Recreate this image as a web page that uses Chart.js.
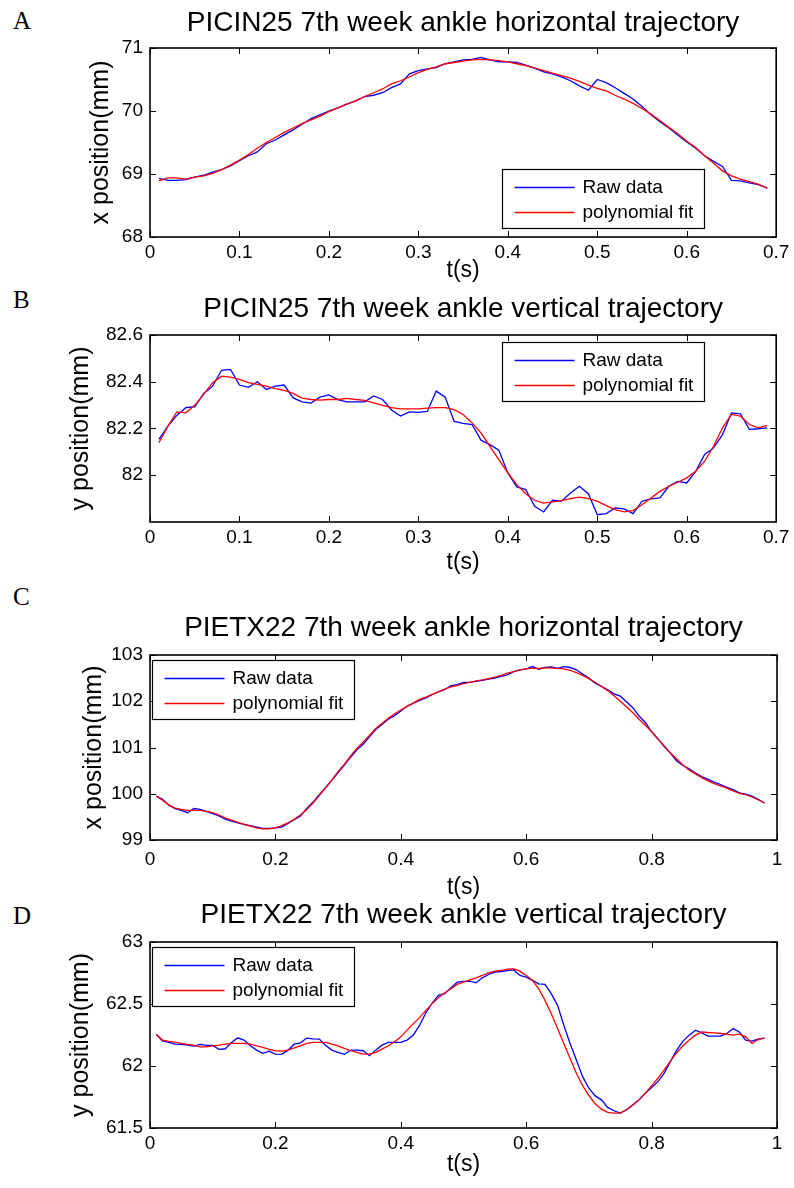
<!DOCTYPE html>
<html>
<head>
<meta charset="utf-8">
<title>Ankle trajectories</title>
<script src="https://cdn.jsdelivr.net/npm/chart.js"></script>
<style>
  body { margin: 0; background: #fff; }
  #page { position: relative; width: 794px; height: 1188px; overflow: hidden; }
  #page canvas { position: absolute; left: 0; }
  .letter { position: absolute; left: 13px; font-family: "Liberation Serif", "Times New Roman", serif; font-size: 25px; line-height: 28px; color: #000; }
</style>
</head>
<body>
<div id="page">
  <div class="letter" style="top:7px">A</div>
  <div class="letter" style="top:286px">B</div>
  <div class="letter" style="top:583px">C</div>
  <div class="letter" style="top:902px">D</div>
  <canvas id="chartA"></canvas>
  <canvas id="chartB"></canvas>
  <canvas id="chartC"></canvas>
  <canvas id="chartD"></canvas>
</div>
<script>
// time samples (s)
const tAB = [0.01,0.02,0.03,0.04,0.05,0.06,0.07,0.08,0.09,0.10,
  0.11,0.12,0.13,0.14,0.15,0.16,0.17,0.18,0.19,0.20,
  0.21,0.22,0.23,0.24,0.25,0.26,0.27,0.28,0.29,0.30,
  0.31,0.32,0.33,0.34,0.35,0.36,0.37,0.38,0.39,0.40,
  0.41,0.42,0.43,0.44,0.45,0.46,0.47,0.48,0.49,0.50,
  0.51,0.52,0.53,0.54,0.55,0.56,0.57,0.58,0.59,0.60,
  0.61,0.62,0.63,0.64,0.65,0.66,0.67,0.68,0.69];
const tCD = [0.01,0.02,0.03,0.04,0.05,0.06,0.07,0.08,0.09,0.10,
  0.11,0.12,0.13,0.14,0.15,0.16,0.17,0.18,0.19,0.20,
  0.21,0.22,0.23,0.24,0.25,0.26,0.27,0.28,0.29,0.30,
  0.31,0.32,0.33,0.34,0.35,0.36,0.37,0.38,0.39,0.40,
  0.41,0.42,0.43,0.44,0.45,0.46,0.47,0.48,0.49,0.50,
  0.51,0.52,0.53,0.54,0.55,0.56,0.57,0.58,0.59,0.60,
  0.61,0.62,0.63,0.64,0.65,0.66,0.67,0.68,0.69,0.70,
  0.71,0.72,0.73,0.74,0.75,0.76,0.77,0.78,0.79,0.80,
  0.81,0.82,0.83,0.84,0.85,0.86,0.87,0.88,0.89,0.90,
  0.91,0.92,0.93,0.94,0.95,0.96,0.97,0.98];

// A: PICIN25 horizontal
const rawA = [68.93,68.90,68.90,68.91,68.95,68.98,69.03,69.07,69.13,69.21,
  69.29,69.35,69.48,69.54,69.62,69.70,69.79,69.88,69.94,70.00,
  70.05,70.11,70.16,70.23,70.25,70.29,70.37,70.43,70.59,70.64,
  70.67,70.69,70.75,70.78,70.81,70.82,70.85,70.81,70.78,70.78,
  70.77,70.73,70.68,70.62,70.59,70.54,70.48,70.40,70.33,70.50,
  70.45,70.37,70.28,70.19,70.07,69.94,69.83,69.73,69.62,69.51,
  69.41,69.29,69.20,69.12,68.90,68.89,68.86,68.83,68.78];
const fitA = [68.89,68.94,68.94,68.92,68.95,68.97,69.01,69.07,69.14,69.22,
  69.31,69.41,69.50,69.58,69.66,69.73,69.80,69.86,69.92,69.99,
  70.05,70.11,70.16,70.23,70.29,70.35,70.43,70.48,70.54,70.61,
  70.66,70.70,70.75,70.77,70.79,70.81,70.82,70.81,70.80,70.78,
  70.75,70.72,70.68,70.64,70.60,70.56,70.52,70.47,70.41,70.36,
  70.32,70.25,70.19,70.12,70.04,69.95,69.85,69.74,69.64,69.52,
  69.42,69.29,69.17,69.05,68.97,68.92,68.88,68.84,68.77];

// B: PICIN25 vertical
const rawB = [82.153,82.21,82.256,82.289,82.293,82.35,82.381,82.449,82.453,82.386,
  82.376,82.40,82.367,82.381,82.386,82.331,82.314,82.309,82.334,82.344,
  82.324,82.314,82.314,82.314,82.339,82.324,82.279,82.253,82.271,82.269,
  82.273,82.36,82.334,82.23,82.222,82.217,82.15,82.131,82.107,82.01,
  81.95,81.939,81.867,81.843,81.893,81.889,81.924,81.953,81.921,81.831,
  81.836,81.86,81.856,81.836,81.889,81.899,81.903,81.953,81.974,81.967,
  82.017,82.089,82.117,82.174,82.267,82.263,82.196,82.199,82.203];
const fitB = [82.139,82.21,82.271,82.267,82.299,82.346,82.396,82.424,82.42,82.41,
  82.396,82.389,82.381,82.371,82.363,82.35,82.33,82.324,82.321,82.324,
  82.324,82.329,82.324,82.32,82.31,82.299,82.289,82.284,82.284,82.284,
  82.287,82.289,82.289,82.281,82.26,82.224,82.181,82.124,82.067,82.01,
  81.96,81.921,81.893,81.881,81.886,81.891,81.90,81.906,81.90,81.889,
  81.87,81.853,81.843,81.849,81.874,81.903,81.931,81.953,81.97,81.989,
  82.017,82.06,82.124,82.203,82.26,82.253,82.217,82.203,82.213];

// C: PIETX22 horizontal
const rawC = [99.95,99.88,99.75,99.68,99.64,99.59,99.68,99.66,99.62,99.57,
  99.52,99.45,99.41,99.37,99.34,99.31,99.28,99.25,99.25,99.26,
  99.28,99.36,99.44,99.52,99.68,99.82,99.98,100.13,100.29,100.46,
  100.62,100.79,100.95,101.07,101.23,101.39,101.50,101.61,101.69,101.79,
  101.89,101.96,102.02,102.07,102.14,102.20,102.25,102.34,102.36,102.41,
  102.41,102.43,102.45,102.48,102.50,102.54,102.57,102.64,102.68,102.70,
  102.75,102.69,102.73,102.74,102.71,102.75,102.73,102.68,102.59,102.50,
  102.39,102.32,102.25,102.16,102.11,101.99,101.86,101.68,101.54,101.34,
  101.19,101.02,100.88,100.71,100.61,100.54,100.45,100.37,100.31,100.25,
  100.20,100.14,100.09,100.02,99.99,99.95,99.88,99.80];
const fitC = [99.95,99.86,99.76,99.69,99.66,99.64,99.64,99.64,99.62,99.59,
  99.54,99.48,99.43,99.38,99.34,99.30,99.26,99.24,99.24,99.26,
  99.31,99.37,99.45,99.54,99.66,99.80,99.96,100.13,100.30,100.48,
  100.64,100.82,100.98,101.12,101.26,101.41,101.52,101.63,101.73,101.81,
  101.89,101.96,102.04,102.09,102.15,102.21,102.26,102.31,102.34,102.38,
  102.41,102.44,102.46,102.49,102.52,102.56,102.61,102.64,102.68,102.70,
  102.71,102.71,102.72,102.72,102.71,102.70,102.67,102.62,102.56,102.49,
  102.41,102.32,102.23,102.12,102.00,101.88,101.75,101.61,101.48,101.34,
  101.18,101.04,100.88,100.75,100.62,100.51,100.43,100.35,100.28,100.22,
  100.17,100.12,100.06,100.01,99.98,99.93,99.87,99.80];

// D: PIETX22 vertical
const rawD = [62.254,62.203,62.19,62.176,62.174,62.168,62.16,62.174,62.166,62.166,
  62.134,62.139,62.19,62.227,62.209,62.163,62.128,62.102,62.12,62.096,
  62.094,62.128,62.176,62.187,62.225,62.219,62.217,62.168,62.128,62.11,
  62.094,62.128,62.128,62.123,62.083,62.128,62.168,62.19,62.19,62.19,
  62.209,62.249,62.329,62.428,62.508,62.57,62.583,62.631,62.676,62.682,
  62.684,62.671,62.711,62.738,62.757,62.762,62.77,62.775,62.73,62.717,
  62.69,62.663,62.658,62.583,62.489,62.329,62.182,62.048,61.914,61.821,
  61.759,61.727,61.666,61.639,61.62,61.647,61.687,61.727,61.781,61.826,
  61.874,61.941,62.035,62.128,62.201,62.249,62.289,62.267,62.241,62.241,
  62.241,62.262,62.302,62.275,62.209,62.201,62.217,62.222];
const fitD = [62.254,62.209,62.198,62.193,62.182,62.174,62.166,62.155,62.155,62.163,
  62.168,62.176,62.182,62.182,62.182,62.176,62.163,62.15,62.134,62.123,
  62.12,62.128,62.147,62.163,62.182,62.19,62.19,62.19,62.176,62.163,
  62.142,62.123,62.11,62.096,62.096,62.11,62.136,62.163,62.195,62.235,
  62.289,62.342,62.39,62.449,62.503,62.551,62.591,62.623,62.658,62.676,
  62.695,62.711,62.73,62.751,62.765,62.77,62.781,62.783,62.765,62.73,
  62.69,62.623,62.529,62.422,62.302,62.182,62.061,61.941,61.842,61.762,
  61.695,61.652,61.626,61.62,61.62,61.647,61.684,61.727,61.781,61.84,
  61.901,61.968,62.04,62.107,62.163,62.209,62.249,62.275,62.27,62.267,
  62.262,62.257,62.249,62.257,62.235,62.182,62.214,62.227];

// tick labels
const xTicksAB = [0, 0.1, 0.2, 0.3, 0.4, 0.5, 0.6, 0.7];
const xTicksCD = [0, 0.2, 0.4, 0.6, 0.8, 1];
const yTicksA = [68, 69, 70, 71];
const yTicksB = [82, 82.2, 82.4, 82.6];
const yTicksC = [99, 100, 101, 102, 103];
const yTicksD = [61.5, 62, 62.5, 63];

const seriesNames = ["Raw data", "polynomial fit"];

Chart.defaults.font.family = "'Liberation Sans', Arial, sans-serif";
Chart.defaults.color = "#000";

// box, inward ticks and an in-axes legend, MATLAB style
const matlabAxes = {
  id: "matlabAxes",
  afterDatasetsDraw(chart, args, opts) {
    const { ctx, chartArea: a } = chart;
    const xs = chart.scales.x, ys = chart.scales.y;
    ctx.save();
    ctx.strokeStyle = "#000";
    ctx.lineWidth = 1;
    ctx.beginPath();
    const len = 6;
    xs.ticks.forEach((t) => {
      const px = Math.round(xs.getPixelForValue(t.value)) + 0.5;
      ctx.moveTo(px, a.bottom); ctx.lineTo(px, a.bottom - len);
      ctx.moveTo(px, a.top); ctx.lineTo(px, a.top + len);
    });
    ys.ticks.forEach((t) => {
      const py = Math.round(ys.getPixelForValue(t.value)) + 0.5;
      ctx.moveTo(a.left, py); ctx.lineTo(a.left + len, py);
      ctx.moveTo(a.right, py); ctx.lineTo(a.right - len, py);
    });
    ctx.stroke();
    ctx.lineWidth = 1.6;
    ctx.strokeRect(a.left, a.top, a.right - a.left, a.bottom - a.top);

    // legend
    const w = 202, h = 59;
    let lx, ly;
    if (opts.corner === "br") { lx = a.right - opts.dx - w; ly = a.bottom - opts.dy - h; }
    else if (opts.corner === "tr") { lx = a.right - opts.dx - w; ly = a.top + opts.dy; }
    else { lx = a.left + opts.dx; ly = a.top + opts.dy; }
    lx = Math.round(lx) + 0.5; ly = Math.round(ly) + 0.5;
    ctx.fillStyle = "#fff";
    ctx.fillRect(lx, ly, w, h);
    ctx.lineWidth = 1.2;
    ctx.strokeRect(lx, ly, w, h);
    ctx.font = "19px 'Liberation Sans', Arial, sans-serif";
    ctx.textBaseline = "middle";
    chart.data.datasets.forEach((ds, i) => {
      const yy = ly + 18 + i * 25;
      ctx.strokeStyle = ds.borderColor;
      ctx.lineWidth = 1.3;
      ctx.beginPath();
      ctx.moveTo(lx + 12, yy); ctx.lineTo(lx + 72, yy);
      ctx.stroke();
      ctx.fillStyle = "#000";
      ctx.fillText(ds.label, lx + 80, yy);
    });
    ctx.restore();
  }
};

function makePanel(id, p) {
  const canvasTop = p.titleMid - 22;
  const canvasBottom = p.tsMid + 18;
  const canvas = document.getElementById(id);
  canvas.width = 794;
  canvas.height = canvasBottom - canvasTop;
  canvas.style.top = canvasTop + "px";
  const padLeft = p.yLabelX - 19;

  return new Chart(canvas, {
    type: "line",
    data: {
      datasets: [
        {
          label: seriesNames[0],
          data: p.t.map((x, i) => ({ x: x, y: p.raw[i] })),
          borderColor: "#0000ff",
          borderWidth: 1.3,
          pointRadius: 0,
          tension: 0,
          order: 1,
        },
        {
          label: seriesNames[1],
          data: p.t.map((x, i) => ({ x: x, y: p.fit[i] })),
          borderColor: "#ff0000",
          borderWidth: 1.3,
          pointRadius: 0,
          tension: 0,
          order: 0,
        },
      ],
    },
    options: {
      responsive: false,
      animation: false,
      events: [],
      layout: { padding: { left: padLeft, right: 17, top: 0, bottom: 0 } },
      plugins: {
        legend: { display: false },
        tooltip: { enabled: false },
        title: {
          display: true,
          text: p.title,
          fullSize: false,
          font: { size: 28, weight: "normal" },
          padding: { top: 5.2, bottom: p.plotTop - canvasTop - 5.2 - 33.6 },
        },
        matlabAxes: p.legend,
      },
      scales: {
        x: {
          type: "linear",
          min: 0,
          max: p.xTicks[p.xTicks.length - 1],
          grid: { display: false, drawTicks: false },
          border: { display: false },
          afterBuildTicks: (s) => { s.ticks = p.xTicks.map((v) => ({ value: v })); },
          afterFit: (s) => { s.height = canvasBottom - p.plotBottom; },
          ticks: {
            padding: p.tickPad,
            maxRotation: 0,
            font: { size: 19 },
            callback: (v) => String(v),
          },
          title: {
            display: true,
            text: "t(s)",
            font: { size: 23 },
            padding: { top: 0, bottom: 4.2 },
          },
        },
        y: {
          min: p.yMin,
          max: p.yMax,
          grid: { display: false, drawTicks: false },
          border: { display: false },
          afterBuildTicks: (s) => { s.ticks = p.yTicks.map((v) => ({ value: v })); },
          afterFit: (s) => { s.width = 150 - padLeft; },
          ticks: {
            padding: 7,
            font: { size: 19 },
            callback: (v) => String(v),
          },
          title: {
            display: true,
            text: p.yLabel,
            font: { size: 25 },
            padding: { top: 4, bottom: 0 },
          },
        },
      },
    },
    plugins: [matlabAxes],
  });
}

makePanel("chartA", {
  t: tAB, raw: rawA, fit: fitA, xTicks: xTicksAB, yTicks: yTicksA, yMin: 68, yMax: 71,
  title: "PICIN25 7th week ankle horizontal trajectory", yLabel: "x position(mm)",
  titleMid: 23, plotTop: 48, plotBottom: 237, tsMid: 271, tickPad: 4.6, yLabelX: 101,
  legend: { corner: "br", dx: 72, dy: 9 },
});
makePanel("chartB", {
  t: tAB, raw: rawB, fit: fitB, xTicks: xTicksAB, yTicks: yTicksB, yMin: 81.8, yMax: 82.6,
  title: "PICIN25 7th week ankle vertical trajectory", yLabel: "y position(mm)",
  titleMid: 309, plotTop: 335, plotBottom: 522, tsMid: 563, tickPad: 4.6, yLabelX: 81,
  legend: { corner: "tr", dx: 72, dy: 7 },
});
makePanel("chartC", {
  t: tCD, raw: rawC, fit: fitC, xTicks: xTicksCD, yTicks: yTicksC, yMin: 99, yMax: 103,
  title: "PIETX22 7th week ankle horizontal trajectory", yLabel: "x position(mm)",
  titleMid: 628, plotTop: 655, plotBottom: 840, tsMid: 888, tickPad: 8.6, yLabelX: 94,
  legend: { corner: "tl", dx: 2, dy: 5 },
});
makePanel("chartD", {
  t: tCD, raw: rawD, fit: fitD, xTicks: xTicksCD, yTicks: yTicksD, yMin: 61.5, yMax: 63,
  title: "PIETX22 7th week ankle vertical trajectory", yLabel: "y position(mm)",
  titleMid: 915, plotTop: 942, plotBottom: 1128, tsMid: 1165, tickPad: 4.6, yLabelX: 81,
  legend: { corner: "tl", dx: 2, dy: 5 },
});
</script>
</body>
</html>
